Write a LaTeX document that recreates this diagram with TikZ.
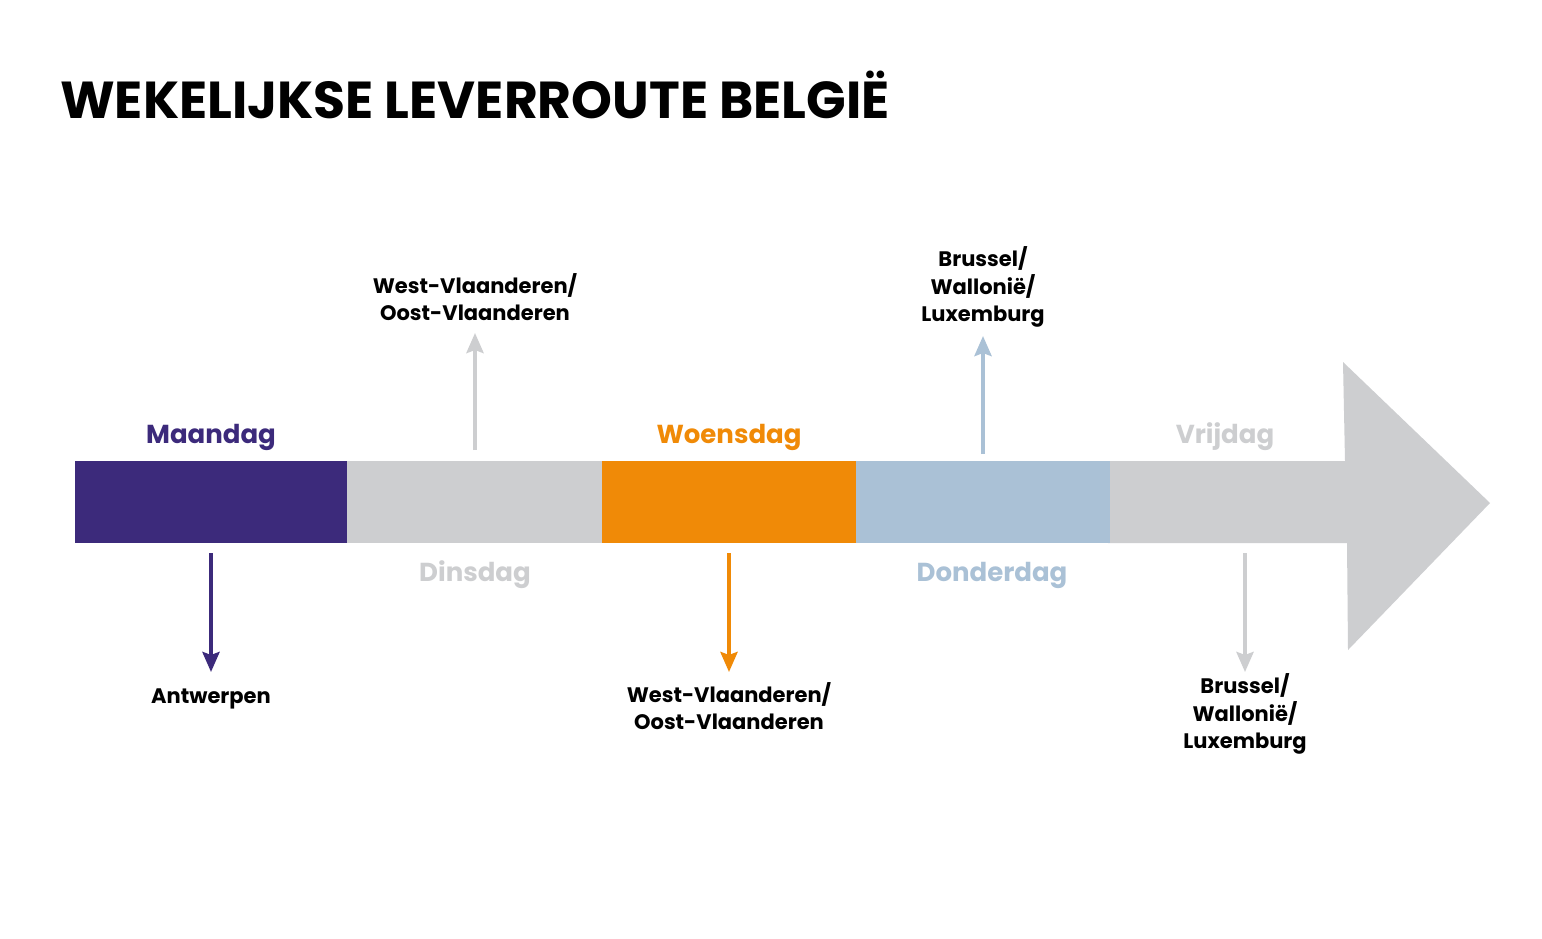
\documentclass[tikz,border=0pt]{standalone}
\usepackage{fontspec}
\setmainfont{Poppins}
\usetikzlibrary{arrows.meta}
\definecolor{cpurple}{HTML}{3C2A7B}
\definecolor{cgray}{HTML}{CDCED0}
\definecolor{corange}{HTML}{F08A07}
\definecolor{cblue}{HTML}{AAC1D6}
\tikzset{
  seg/.style={rectangle, minimum height=82pt, inner sep=0pt, outer sep=0pt, anchor=north west},
  day/.style={font=\fontsize{26}{30}\selectfont\bfseries, inner sep=0pt},
  place/.style={font=\fontsize{21}{27.5}\selectfont\bfseries, align=center, inner sep=0pt, text=black},
  conn/.style={line width=4pt, -{Stealth[length=20pt,width=17pt,inset=3pt]}},
}
\begin{document}
\begin{tikzpicture}[x=1pt,y=-1pt]
\useasboundingbox[fill=white] (0,0) rectangle (1542,938);
% title
\node[anchor=base west, inner sep=0pt, font=\fontsize{52}{60}\selectfont\bfseries] (title) at (60,118) {WEKELIJKSE LEVERROUTE BELGIË};
% big arrow
\fill[cgray] (1108,461) -- (1345,461) -- (1343,362) -- (1490,503) -- (1348,650) -- (1347,543) -- (1108,543) -- cycle;
% segments
\node[seg, fill=cpurple, minimum width=272pt] (mon) at (75,461) {};
\node[seg, fill=cgray, minimum width=255pt] (tue) at (347,461) {};
\node[seg, fill=corange, minimum width=254pt] (wed) at (602,461) {};
\node[seg, fill=cblue, minimum width=254pt] (thu) at (856,461) {};
\node[seg, fill=cgray, minimum width=237pt] (fri) at (1110,461) {};
% day labels
\node[day, text=cpurple] (lmon) at (211,437) {Maandag};
\node[day, text=cgray] (ltue) at (475,575) {Dinsdag};
\node[day, text=corange] (lwed) at (729,437) {Woensdag};
\node[day, text=cblue] (lthu) at (992,575) {Donderdag};
\node[day, text=cgray] (lfri) at (1225,437) {Vrijdag};
% places
\node[place] (pmon) at (211,699) {Antwerpen};
\node[place] (ptue) at (475,297) {West-Vlaanderen/\\Oost-Vlaanderen};
\node[place] (pwed) at (729,706) {West-Vlaanderen/\\Oost-Vlaanderen};
\node[place] (pthu) at (983,287) {Brussel/\\Wallonië/\\Luxemburg};
\node[place] (pfri) at (1245,714) {Brussel/\\Wallonië/\\Luxemburg};
% connector endpoints
\coordinate (smon) at (211,553); \coordinate (emon) at (211,672);
\coordinate (stue) at (475,450); \coordinate (etue) at (475,333);
\coordinate (swed) at (729,553); \coordinate (ewed) at (729,672);
\coordinate (sthu) at (983,454); \coordinate (ethu) at (983,336);
\coordinate (sfri) at (1245,553); \coordinate (efri) at (1245,672);
\draw[conn, cpurple] (smon) -- (emon);
\draw[conn, cgray] (stue) -- (etue);
\draw[conn, corange] (swed) -- (ewed);
\draw[conn, cblue] (sthu) -- (ethu);
\draw[conn, cgray] (sfri) -- (efri);
\end{tikzpicture}
\end{document}
